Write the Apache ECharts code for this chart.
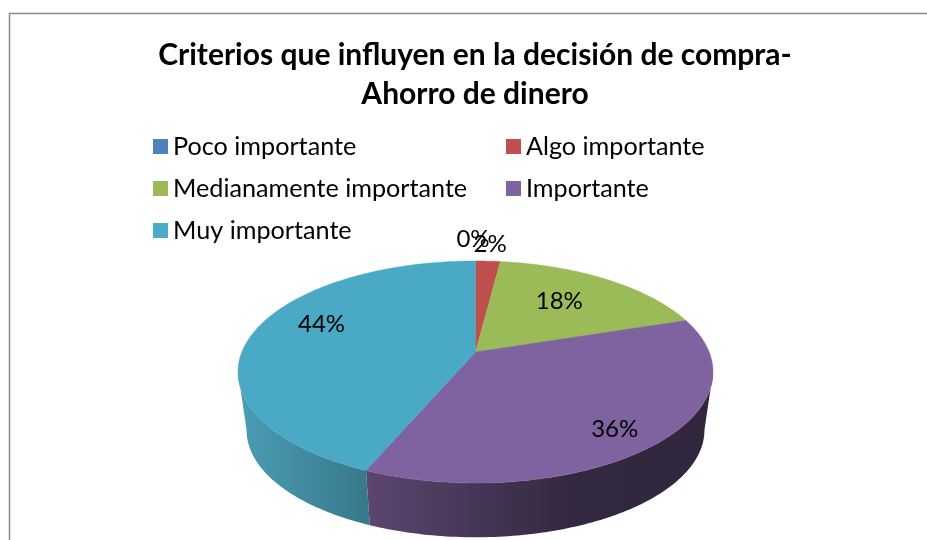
<!DOCTYPE html>
<html>
<head>
<meta charset="utf-8">
<style>html,body{margin:0;padding:0;background:#fff}#c{width:927px;height:540px}</style>
<script src="https://cdn.jsdelivr.net/npm/echarts@6/dist/echarts.min.js"></script>
</head>
<body>
<div id="c"></div>
<script>
const titleLines = ['Criterios que influyen en la decisión de compra-', 'Ahorro de dinero'];
const categories = ['Poco importante', 'Algo importante', 'Medianamente importante', 'Importante', 'Muy importante'];
const percents = [0, 2, 18, 36.4, 43.6];
const colors = ['#4f81bd', '#c0504d', '#9bbb59', '#8064a2', '#4bacc6'];
const topColors = ['#4f81bd', '#bd4f4c', '#9bbb59', '#7f62a0', '#4aa9c4'];

const FONT = 'Lato, "Open Sans", sans-serif';
const geom = { cx: 475.5, apexTop: 352, apexBottom: 411, a: 233.6, b: 107.4, p: 0.18, bottomScale: 0.964 };
const wallStops = {
  3: [[0, '#5c4670'], [0.6, '#32283f'], [1, '#30263e']],
  4: [[0, '#4b9db5'], [1, '#36788a']]
};
const labelPlace = { 0: [1.3, -2.5, 0], 1: [1.22, 0, 0], 2: [0.65, -5, -1], 3: [0.8, -2, 6], 4: [0.68, -2, -13] };

function project(deg, r, bottom) {
  const t = deg * Math.PI / 180, u = r * Math.sin(t), v = r * Math.cos(t), d = 1 + geom.p * v;
  const s = bottom ? geom.bottomScale : 1;
  return [geom.cx + s * geom.a * u / d, (bottom ? geom.apexBottom : geom.apexTop) - s * geom.b * v / d];
}
function arc(from, to, bottom) {
  const out = [], n = Math.max(1, Math.ceil(Math.abs(to - from)));
  for (let i = 0; i <= n; i++) out.push(project(from + (to - from) * i / n, 1, bottom));
  return out;
}
const total = percents.reduce((s, v) => s + v, 0);
let running = 0;
const series = categories.map((name, i) => {
  const start = running;
  running += percents[i];
  return {
    type: 'custom', name, coordinateSystem: 'none', silent: true, animation: false, clip: false,
    itemStyle: { color: colors[i] },
    data: [[percents[i], start]],
    renderItem(params, api) {
      const value = api.value(0);
      const a0 = api.value(1) / total * 360, a1 = a0 + value / total * 360;
      const children = [];
      // the side wall runs between the two tangent points of the rim
      const w0 = Math.max(a0, 100.4), w1 = Math.min(a1, 259.6);
      if (w1 > w0 && wallStops[i]) {
        const pts = arc(w0, w1, false).concat(arc(w1, w0, true));
        children.push({
          type: 'polygon', shape: { points: pts },
          style: { fill: { type: 'linear', x: 0, y: 0, x2: 1, y2: 0,
            colorStops: wallStops[i].map(s => ({ offset: s[0], color: s[1] })) } }
        });
      }
      if (a1 > a0) {
        children.push({
          type: 'polygon', shape: { points: [[geom.cx, geom.apexTop]].concat(arc(a0, a1, false)) },
          style: { fill: topColors[i], stroke: topColors[i], lineWidth: 0.5 }
        });
      }
      const pl = labelPlace[i], c = project((a0 + a1) / 2, pl[0], false);
      children.push({
        type: 'text', z2: 10,
        style: { text: Math.round(value / total * 100) + '%', x: c[0] + pl[1], y: c[1] + pl[2],
          fill: '#000', font: '24px ' + FONT, align: 'center', verticalAlign: 'middle' }
      });
      return { type: 'group', children };
    }
  };
});
series.forEach((s, i) => { s.z = 2 + (i === 0 ? 0 : 1); });

const legendBase = {
  orient: 'vertical', icon: 'rect', itemWidth: 15, itemHeight: 15, itemGap: 17, top: 134, selectedMode: false,
  padding: 0, textStyle: { fontFamily: FONT, fontSize: 25.2, color: '#000', lineHeight: 25 }
};
const chart = echarts.init(document.getElementById('c'), null, { renderer: 'canvas' });
chart.setOption({
  animation: false,
  backgroundColor: '#fff',
  title: {
    text: titleLines.join('\n'), left: 475, top: 36, textAlign: 'center', padding: 0,
    textStyle: { fontFamily: FONT, fontSize: 30, fontWeight: 'bold', color: '#000', lineHeight: 39 }
  },
  legend: [
    Object.assign({}, legendBase, { left: 153, data: [categories[0], categories[2], categories[4]] }),
    Object.assign({}, legendBase, { left: 506, data: [categories[1], categories[3]] })
  ],
  graphic: [{
    type: 'rect', silent: true, z: -1,
    shape: { x: 9.5, y: 13.5, width: 1000, height: 600 },
    style: { fill: '#fff', stroke: '#8c8c8c', lineWidth: 1.5 }
  }],
  series
});
</script>
</body>
</html>
